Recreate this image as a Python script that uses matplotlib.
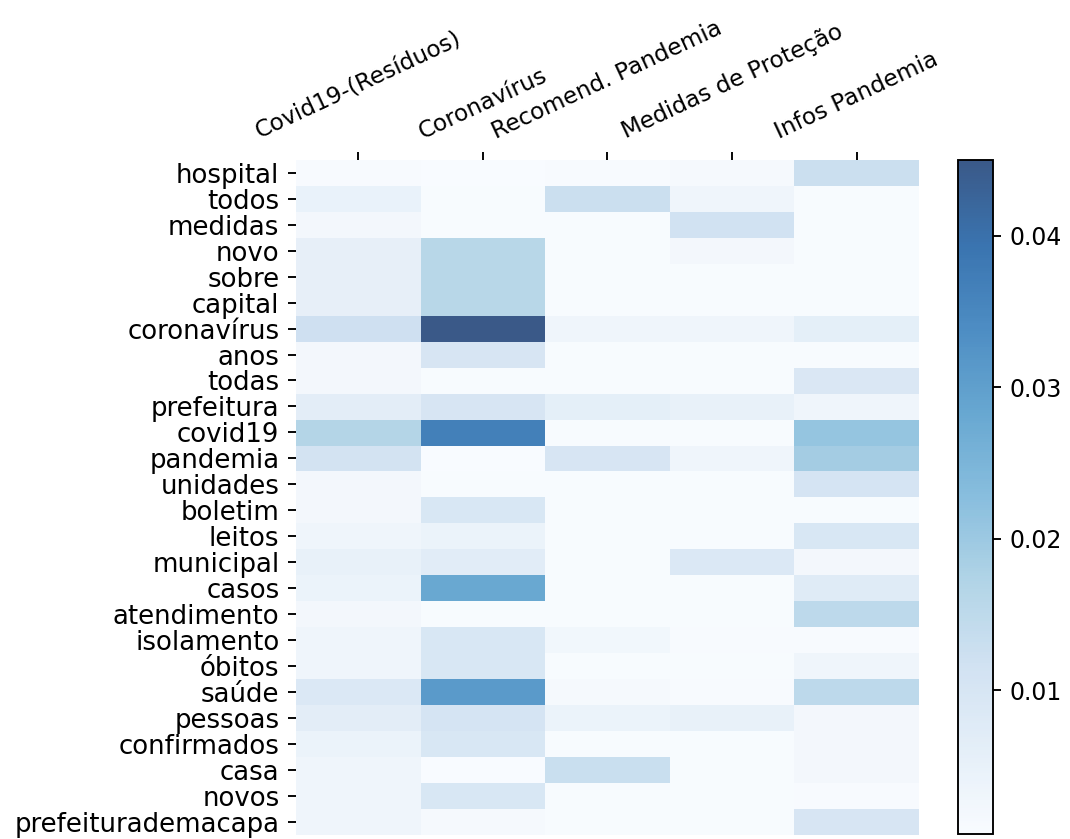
import matplotlib

matplotlib.use("Agg")

import matplotlib.pyplot as plt
import numpy as np
import pandas as pd

termos = [
    "hospital", "todos", "medidas", "novo", "sobre", "capital", "coronavírus",
    "anos", "todas", "prefeitura", "covid19", "pandemia", "unidades", "boletim",
    "leitos", "municipal", "casos", "atendimento", "isolamento", "óbitos",
    "saúde", "pessoas", "confirmados", "casa", "novos", "prefeiturademacapa",
]

topicos = [
    "Covid19-(Resíduos)",
    "Coronavírus",
    "Recomend. Pandemia",
    "Medidas de Proteção",
    "Infos Pandemia",
]

# peso de cada termo por tópico
covid_residuos = [
    0.0010, 0.0045, 0.0020, 0.0055, 0.0055, 0.0055, 0.0120, 0.0020, 0.0020,
    0.0065, 0.0165, 0.0110, 0.0020, 0.0020, 0.0030, 0.0050, 0.0040, 0.0020,
    0.0030, 0.0030, 0.0085, 0.0065, 0.0040, 0.0030, 0.0030, 0.0030,
]
coronavirus = [
    0.0005, 0.0008, 0.0008, 0.0160, 0.0160, 0.0160, 0.0450, 0.0100, 0.0008,
    0.0100, 0.0365, 0.0005, 0.0008, 0.0095, 0.0040, 0.0070, 0.0280, 0.0008,
    0.0095, 0.0095, 0.0310, 0.0105, 0.0095, 0.0005, 0.0095, 0.0015,
]
recomend_pandemia = [
    0.0010, 0.0125, 0.0008, 0.0008, 0.0008, 0.0008, 0.0030, 0.0008, 0.0008,
    0.0060, 0.0008, 0.0100, 0.0008, 0.0008, 0.0008, 0.0008, 0.0008, 0.0008,
    0.0025, 0.0008, 0.0015, 0.0040, 0.0008, 0.0130, 0.0008, 0.0008,
]
medidas_protecao = [
    0.0015, 0.0030, 0.0115, 0.0020, 0.0008, 0.0008, 0.0030, 0.0008, 0.0008,
    0.0050, 0.0008, 0.0030, 0.0008, 0.0008, 0.0008, 0.0085, 0.0008, 0.0008,
    0.0010, 0.0008, 0.0010, 0.0050, 0.0008, 0.0008, 0.0008, 0.0008,
]
infos_pandemia = [
    0.0125, 0.0008, 0.0008, 0.0008, 0.0008, 0.0008, 0.0060, 0.0008, 0.0090,
    0.0030, 0.0210, 0.0190, 0.0105, 0.0008, 0.0095, 0.0020, 0.0075, 0.0150,
    0.0010, 0.0030, 0.0150, 0.0020, 0.0020, 0.0020, 0.0010, 0.0100,
]

tabela = pd.DataFrame(
    {
        topicos[0]: covid_residuos,
        topicos[1]: coronavirus,
        topicos[2]: recomend_pandemia,
        topicos[3]: medidas_protecao,
        topicos[4]: infos_pandemia,
    },
    index=termos,
)

DPI = 170
fig = plt.figure(figsize=(1070 / DPI, 839 / DPI), dpi=DPI)
ax = fig.add_axes([0.2766, 0.005, 0.5822, 0.8045])
cax = fig.add_axes([0.8953, 0.006, 0.0327, 0.803])

im = ax.imshow(tabela.values, cmap="Blues", alpha=0.8, aspect="auto")

ax.xaxis.tick_top()
ax.set_xticks(np.arange(len(topicos)))
ax.set_xticklabels(topicos, rotation=25, fontsize=9.8)
ax.set_yticks(np.arange(len(termos)))
ax.set_yticklabels(termos, fontsize=11)
for spine in ax.spines.values():
    spine.set_visible(False)

cb = fig.colorbar(im, cax=cax)
cb.set_ticks([0.01, 0.02, 0.03, 0.04])
cb.ax.tick_params(labelsize=10)

fig.savefig("out.png", dpi=DPI)
plt.close(fig)
